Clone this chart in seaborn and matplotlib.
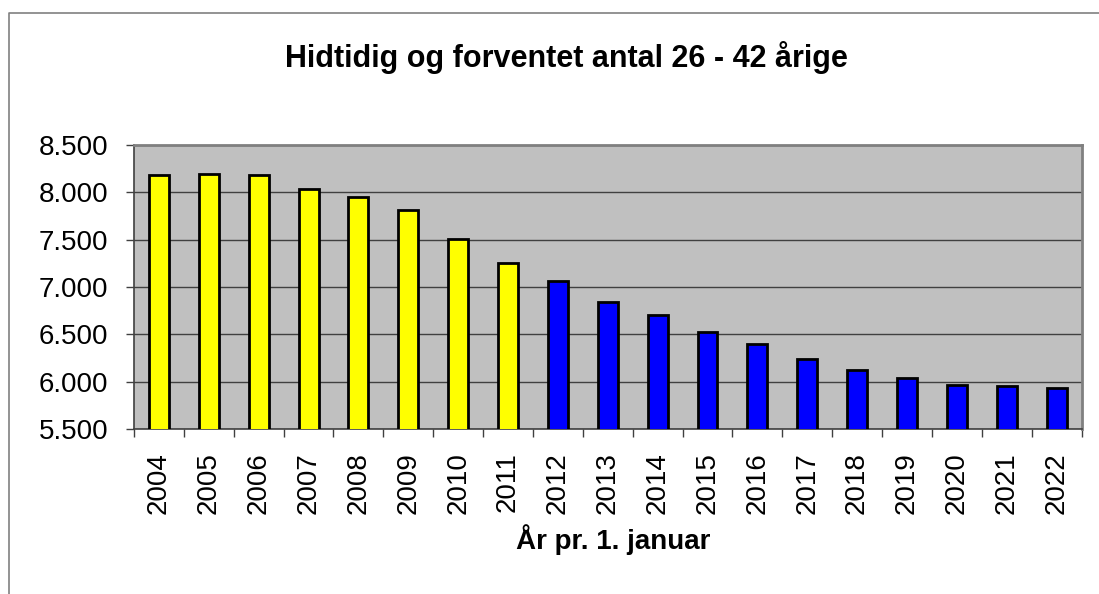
import matplotlib
matplotlib.use("Agg")
import matplotlib.pyplot as plt
import seaborn as sns
import pandas as pd
from matplotlib.ticker import FuncFormatter, FixedLocator
from matplotlib.lines import Line2D

years = [str(y) for y in range(2004, 2023)]
values = [8180, 8190, 8180, 8030, 7950, 7810, 7510, 7250, 7060, 6840, 6700,
          6520, 6400, 6240, 6120, 6040, 5970, 5950, 5930]
kinds = ["Hidtidig"] * 8 + ["Forventet"] * 11
palette = {"Hidtidig": "#FFFF00", "Forventet": "#0000FF"}
title = "Hidtidig og forventet antal 26 - 42 årige"
xlabel = "År pr. 1. januar"
yticks = [5500, 6000, 6500, 7000, 7500, 8000, 8500]

df = pd.DataFrame({"year": years, "value": values, "kind": kinds})

sns.set_style("white")
plt.rcParams["font.family"] = ["Liberation Sans", "DejaVu Sans"]
plt.rcParams["text.color"] = "black"
plt.rcParams["axes.labelcolor"] = "black"
plt.rcParams["xtick.color"] = "black"
plt.rcParams["ytick.color"] = "black"

W, H = 1099, 594
fig = plt.figure(figsize=(W / 100, H / 100), dpi=100)
L, R, T, B = 134, 1081.5, 145, 429
ax = fig.add_axes([L / W, 1 - B / H, (R - L) / W, (B - T) / H])
ax.set_facecolor("#C0C0C0")

sns.barplot(data=df, x="year", y="value", hue="kind", palette=palette,
            saturation=1, dodge=False, width=0.4, edgecolor="black", linewidth=2.0,
            legend=False, ax=ax, zorder=3)

ax.set_ylim(5500, 8500)
ax.set_xlim(-0.5, len(years) - 0.5)
ax.set_yticks(yticks)
ax.yaxis.set_major_formatter(FuncFormatter(lambda v, p: f"{int(v):,}".replace(",", ".")))
ax.yaxis.grid(True, color="#404040", linewidth=1.0, zorder=0)
ax.set_axisbelow(True)

ax.xaxis.set_minor_locator(FixedLocator([i - 0.5 for i in range(len(years) + 1)]))
ax.tick_params(axis="x", which="major", length=0, pad=17, labelsize=20, labelrotation=90,
               labelcolor="black")
ax.tick_params(axis="x", which="minor", length=6, width=1, color="#404040", direction="out", bottom=True)
ax.tick_params(axis="y", which="major", length=6, width=1, color="#404040", direction="out",
               left=True, pad=12.5, labelsize=20, labelcolor="black")
ax.set_xlabel("")
ax.set_ylabel("")

for side in ["left", "bottom"]:
    ax.spines[side].set_color("#404040")
    ax.spines[side].set_linewidth(1.2)
for side in ["top", "right"]:
    ax.spines[side].set_visible(True)
    ax.spines[side].set_color("#808080")
    ax.spines[side].set_linewidth(2)

fig.text(566 / W, 1 - 67.5 / H, title, ha="center", va="baseline",
         fontsize=22, fontweight="bold", color="black")
fig.text(613 / W, 1 - 549 / H, xlabel, ha="center", va="baseline",
         fontsize=20, fontweight="bold", color="black")

fig.add_artist(Line2D([8.5 / W, 8.5 / W, 1.0], [0.0, 1 - 12.5 / H, 1 - 12.5 / H],
                      transform=fig.transFigure, color="#808080", linewidth=1.2))

fig.savefig("out.png", dpi=100, facecolor="white")
